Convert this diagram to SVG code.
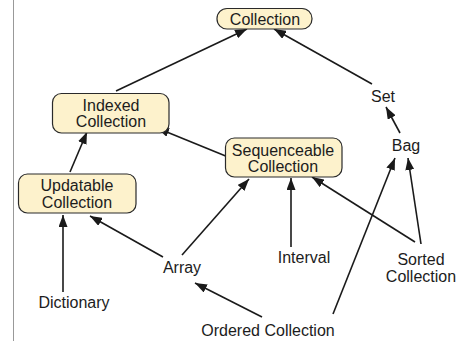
<svg xmlns="http://www.w3.org/2000/svg" width="459" height="341" viewBox="0 0 459 341">
<defs>
<style>
.box{fill:#fdf2cc;stroke:#2a2a2a;stroke-width:1.2}
.t{font-family:"Liberation Sans",Arial,sans-serif;font-size:16px;fill:#1c1c1c;text-anchor:middle}
.e{stroke:#1a1a1a;stroke-width:1.6;fill:none;marker-end:url(#ah)}
</style>
<marker id="ah" viewBox="0 0 12 9" refX="12" refY="4.5" markerWidth="12" markerHeight="9" markerUnits="userSpaceOnUse" orient="auto">
<path d="M0,0 L12,4.5 L0,9 Z" fill="#1a1a1a"/>
</marker>
</defs>
<rect width="459" height="341" fill="#fff"/>
<line x1="13.5" y1="0" x2="13.5" y2="341" stroke="#999" stroke-width="1"/>
<g id="edges">
<line class="e" x1="116" y1="91" x2="247" y2="29"/>
<line class="e" x1="372" y1="84" x2="274" y2="29"/>
<line class="e" x1="400" y1="133" x2="386" y2="107"/>
<line class="e" x1="233" y1="159" x2="157" y2="128"/>
<line class="e" x1="70" y1="172" x2="87" y2="132"/>
<line class="e" x1="63" y1="292" x2="63" y2="215"/>
<line class="e" x1="163" y1="257" x2="90" y2="216"/>
<line class="e" x1="182" y1="255" x2="249" y2="179"/>
<line class="e" x1="291" y1="247" x2="291" y2="178"/>
<line class="e" x1="415" y1="242" x2="312" y2="177"/>
<line class="e" x1="421" y1="244" x2="408" y2="158"/>
<line class="e" x1="333" y1="314" x2="395" y2="158"/>
<line class="e" x1="262" y1="317" x2="195" y2="283"/>
</g>
<g id="collection">
<rect class="box" x="217" y="8.5" width="95" height="20.5" rx="10"/>
<text class="t" x="265" y="25">Collection</text>
</g>
<g id="indexed">
<rect class="box" x="52.5" y="93.5" width="116.5" height="39.5" rx="9"/>
<text class="t" x="111" y="111">Indexed</text>
<text class="t" x="111" y="127">Collection</text>
</g>
<g id="sequenceable">
<rect class="box" x="225.5" y="138" width="116.5" height="39" rx="9"/>
<text class="t" x="283" y="156">Sequenceable</text>
<text class="t" x="283" y="172">Collection</text>
</g>
<g id="updatable">
<rect class="box" x="18.5" y="174" width="117.5" height="39" rx="9"/>
<text class="t" x="77" y="191">Updatable</text>
<text class="t" x="77" y="208">Collection</text>
</g>
<g id="set"><text class="t" x="383" y="102">Set</text></g>
<g id="bag"><text class="t" x="406" y="151">Bag</text></g>
<g id="interval"><text class="t" x="304" y="263">Interval</text></g>
<g id="sorted">
<text class="t" x="421" y="265">Sorted</text>
<text class="t" x="421" y="282">Collection</text>
</g>
<g id="array"><text class="t" x="182" y="273">Array</text></g>
<g id="dictionary"><text class="t" x="74" y="308">Dictionary</text></g>
<g id="ordered"><text class="t" x="268" y="336">Ordered Collection</text></g>
</svg>
